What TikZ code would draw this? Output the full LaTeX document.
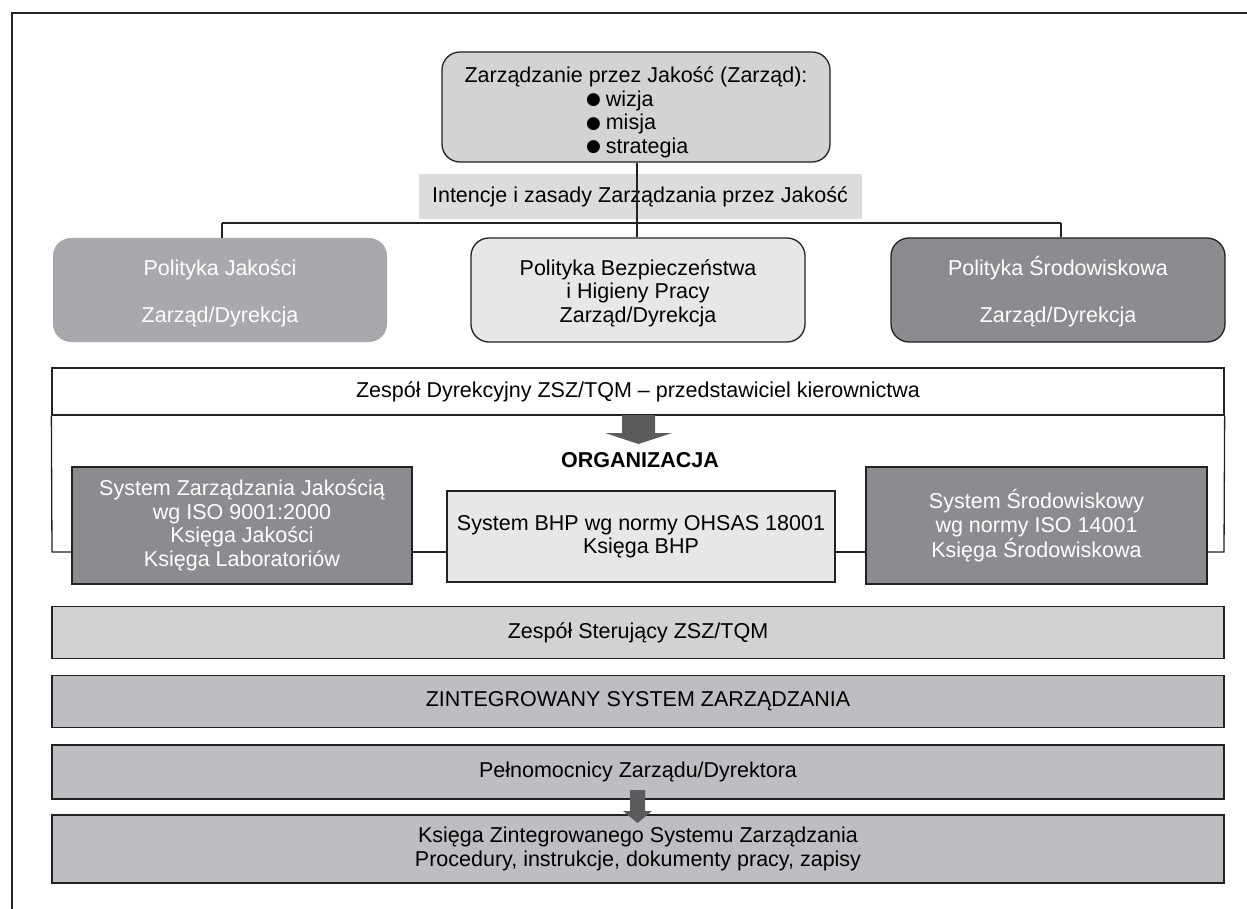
\documentclass[tikz,border=0pt]{standalone}
\usepackage{fontspec}
\setmainfont{Liberation Sans}
\newfontfamily\symfont{DejaVu Sans}
\definecolor{topfill}{HTML}{D2D3D5}
\definecolor{barfill}{HTML}{DCDCDE}
\definecolor{midfill}{HTML}{A8A9AC}
\definecolor{lightfill}{HTML}{E7E7E9}
\definecolor{darkfill}{HTML}{8B8C8F}
\definecolor{steerfill}{HTML}{D1D2D4}
\definecolor{zsfill}{HTML}{BDBEC1}
\definecolor{arrowfill}{HTML}{5A5B5D}
\definecolor{linegray}{HTML}{222222}
\tikzset{
  txt/.style={font=\fontsize{21.5}{23.5}\selectfont, align=center, inner sep=0pt},
  rbox/.style={txt, rounded corners=18pt, minimum width=334pt, minimum height=104pt},
  sbox/.style={txt, draw=linegray, line width=1.2pt},
  wide/.style={txt, draw=linegray, line width=1.8pt, minimum width=1172pt},
  conn/.style={draw=linegray, line width=1.6pt},
  blockarrow/.style={fill=arrowfill, draw=none},
}
\newcommand{\bul}{\raisebox{1.2pt}{\symfont\fontsize{17}{17}\selectfont ●}}
\begin{document}
\begin{tikzpicture}[x=1pt,y=-1pt]
\useasboundingbox (0,0) rectangle (1247,909);
% outer frame (cropped)
\draw[line width=1.6pt, draw=linegray] (12,909) -- (12,13) -- (1247,13);

% top box
\node[txt, draw=linegray, line width=1.3pt, fill=topfill, rounded corners=18pt,
      minimum width=388pt, minimum height=110pt] (top) at (636,107)
  {\rule{0pt}{26pt}Zarządzanie przez Jakość (Zarząd):\\
   \makebox[100pt][l]{\bul\hspace{5pt}wizja}\\
   \makebox[100pt][l]{\bul\hspace{5pt}misja}\\
   \makebox[100pt][l]{\bul\hspace{5pt}strategia}};

% Intencje bar
\node[txt, fill=barfill, minimum width=443pt, minimum height=45pt] (int) at (640,196.5)
  {Intencje i zasady Zarządzania przez Jakość};

% policy boxes
\node[rbox, fill=midfill, text=white] (p1) at (220,290)
  {\rule{0pt}{22pt}Polityka Jakości\\[23.5pt]Zarząd/Dyrekcja};
\node[rbox, fill=lightfill, draw=linegray, line width=1.3pt] (p2) at (638,290)
  {\rule{0pt}{22pt}Polityka Bezpieczeństwa\\i Higieny Pracy\\Zarząd/Dyrekcja};
\node[rbox, fill=darkfill, draw=linegray, line width=1.3pt, text=white] (p3) at (1058,290)
  {\rule{0pt}{22pt}Polityka Środowiskowa\\[23.5pt]Zarząd/Dyrekcja};

% connectors top
\coordinate (hl) at (222,223);
\coordinate (hm) at (637,223);
\coordinate (hr) at (1061,223);
\draw[conn] (top.south -| hm) -- (hm);
\draw[conn] (hl) -- (hr);
\draw[conn] (hl) -- (hl |- p1.north);
\draw[conn] (hm) -- (hm |- p2.north);
\draw[conn] (hr) -- (hr |- p3.north);

% Zespół Dyrekcyjny bar
\node[txt, draw=linegray, line width=1.3pt, fill=white, minimum width=1172pt, minimum height=47pt] (zd) at (638,391.5)
  {Zespół Dyrekcyjny ZSZ/TQM -- przedstawiciel kierownictwa};

% arrow
\fill[blockarrow] (622,415) -- (655,415) -- (655,433) -- (672,433) -- (638.5,444) -- (605,433) -- (622,433) -- cycle;
\node[txt, font=\fontsize{21.5}{23.5}\selectfont\bfseries, anchor=base] (org) at (640,467) {ORGANIZACJA};

% organization boxes
\node[sbox, fill=darkfill, text=white, minimum width=340pt, minimum height=117pt] (s1) at (242,525.5)
  {System Zarządzania Jakością\\wg ISO 9001:2000\\Księga Jakości\\Księga Laboratoriów};
\node[sbox, fill=lightfill, minimum width=388pt, minimum height=91pt] (s2) at (641,536.5)
  {System BHP wg normy OHSAS 18001\\Księga BHP};
\node[sbox, fill=darkfill, text=white, minimum width=341pt, minimum height=117pt] (s3) at (1036.5,525.5)
  {System Środowiskowy\\wg normy ISO 14001\\Księga Środowiskowa};

% frame around organization
\coordinate (fl) at (52,552);
\coordinate (fr) at (1224,552);
\draw[conn, line width=1.3pt] (zd.south west) -- (fl) -- (fl -| s1.west);
\draw[conn, line width=1.3pt] (zd.south east) -- (fr) -- (fr -| s3.east);
\draw[conn, line width=1.3pt] (s1.east |- fl) -- (s2.west |- fl);
\draw[conn, line width=1.3pt] (s2.east |- fl) -- (s3.west |- fl);

% bottom bars
\node[wide, fill=steerfill, minimum height=52pt] (ster) at (638,632.5) {Zespół Sterujący ZSZ/TQM};
\node[wide, fill=zsfill, minimum height=52pt] (zsz) at (638,701.5) {ZINTEGROWANY SYSTEM ZARZĄDZANIA};
\node[wide, fill=zsfill, minimum height=54pt] (pel) at (638,772) {Pełnomocnicy Zarządu/Dyrektora};
\node[wide, fill=zsfill, minimum height=68pt] (ks) at (638,849)
  {Księga Zintegrowanego Systemu Zarządzania\\Procedury, instrukcje, dokumenty pracy, zapisy};

% small arrow
\fill[blockarrow] (630,790) -- (645,790) -- (645,811) -- (652,811) -- (637.5,823) -- (623,811) -- (630,811) -- cycle;
\end{tikzpicture}
\end{document}
